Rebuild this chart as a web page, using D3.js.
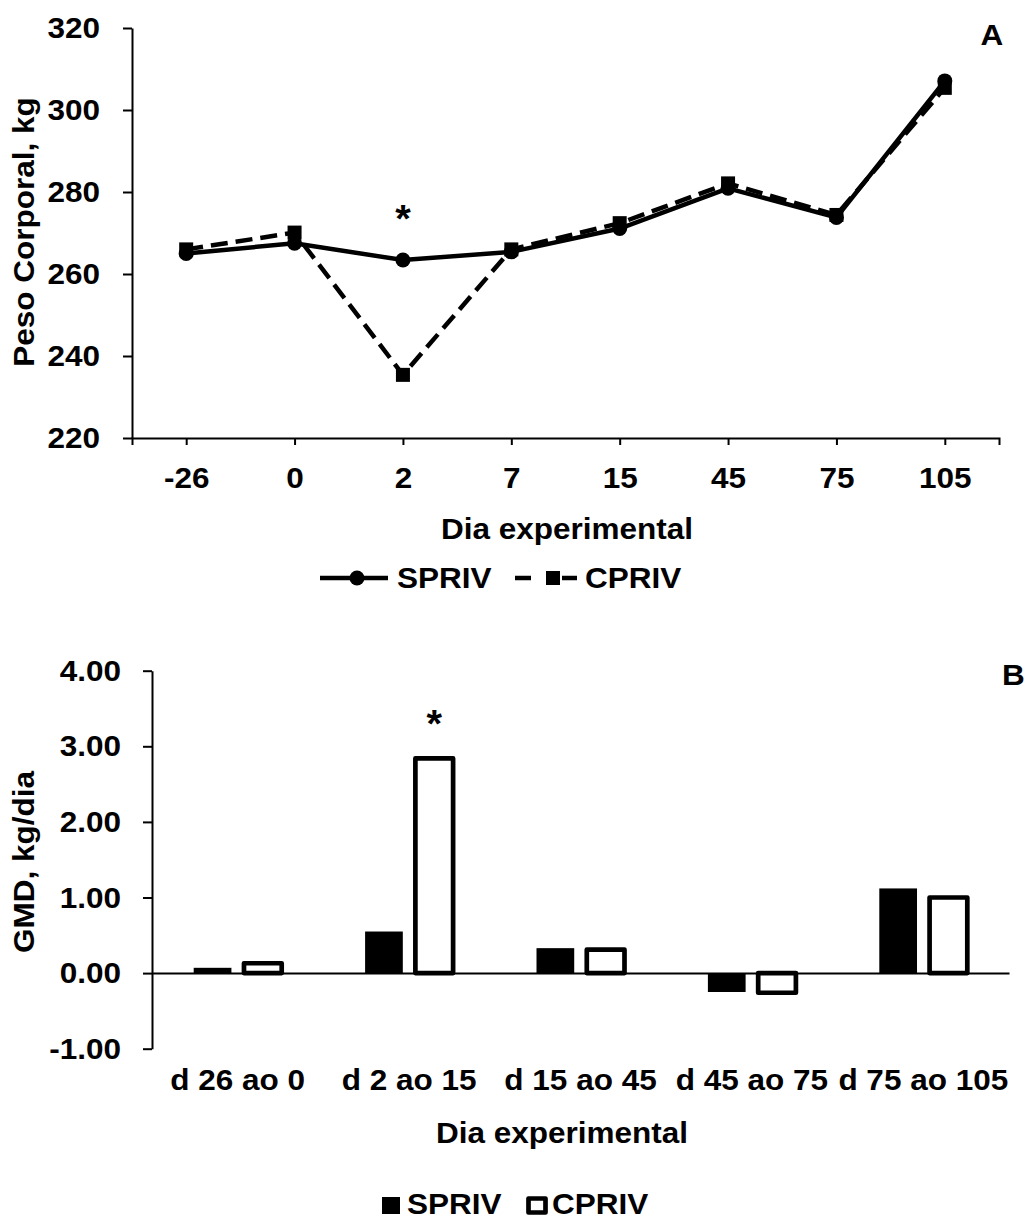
<!DOCTYPE html>
<html>
<head>
<meta charset="utf-8">
<script src="https://cdn.jsdelivr.net/npm/d3@7"></script>
<style>
  body { margin: 0; background: #fff; }
  svg text { font-family: "Liberation Sans", Arial, sans-serif; font-weight: bold; font-size: 30px; fill: #000; }
  svg text.star { font-size: 38px; }
</style>
</head>
<body>
<div id="chart"></div>
<script>
// panel A - peso corporal
var dias = ["-26", "0", "2", "7", "15", "45", "75", "105"];
var pesoSPRIV = [265.0, 267.5, 263.4, 265.4, 271.1, 280.9, 273.8, 307.1];
var pesoCPRIV = [266.0, 270.1, 235.4, 266.0, 272.4, 282.1, 274.4, 305.4];
var pesoTicks = [220, 240, 260, 280, 300, 320];

// panel B - GMD
var periodos = ["d 26 ao 0", "d 2 ao 15", "d 15 ao 45", "d 45 ao 75", "d 75 ao 105"];
var gmdSPRIV = [0.07, 0.55, 0.33, -0.25, 1.12];
var gmdCPRIV = [0.13, 2.84, 0.31, -0.26, 1.00];
var gmdTicks = [-1, 0, 1, 2, 3, 4];
var series = ["SPRIV", "CPRIV"];

var WIDTH = 1032, HEIGHT = 1221;

var svg = d3.select('#chart')
            .append('svg')
            .attr('width', WIDTH)
            .attr('height', HEIGHT);

// ---------- panel A ----------
var xA = d3.scalePoint().domain(dias).range([132, 999]).padding(0.5);
var yA = d3.scaleLinear().domain([220, 320]).range([438, 28]);

var gA = svg.append('g');

gA.append('g')
  .attr('transform', 'translate(132,0)')
  .call(d3.axisLeft(yA).tickValues(pesoTicks).tickSize(9).tickSizeOuter(0).tickPadding(23));

gA.append('g')
  .attr('transform', 'translate(0,438)')
  .call(d3.axisBottom(xA).tickSize(7).tickSizeOuter(7).tickPadding(21.7));

var line = d3.line()
             .x(function(d, i) { return xA(dias[i]); })
             .y(function(d) { return yA(d); });

// dashed series first, solid on top
gA.append('path')
  .datum(pesoCPRIV)
  .attr('d', line)
  .attr('fill', 'none')
  .attr('stroke', '#000')
  .attr('stroke-width', 4.5)
  .attr('stroke-dasharray', '17,8');

gA.selectAll('rect.cpriv')
  .data(pesoCPRIV)
  .enter()
  .append('rect')
  .attr('class', 'cpriv')
  .attr('x', function(d, i) { return xA(dias[i]) - 7; })
  .attr('y', function(d) { return yA(d) - 7; })
  .attr('width', 14)
  .attr('height', 14)
  .attr('fill', '#000');

gA.append('path')
  .datum(pesoSPRIV)
  .attr('d', line)
  .attr('fill', 'none')
  .attr('stroke', '#000')
  .attr('stroke-width', 4.5);

gA.selectAll('circle.spriv')
  .data(pesoSPRIV)
  .enter()
  .append('circle')
  .attr('class', 'spriv')
  .attr('cx', function(d, i) { return xA(dias[i]); })
  .attr('cy', function(d) { return yA(d); })
  .attr('r', 7.5)
  .attr('fill', '#000');

gA.append('text')
  .attr('class', 'star')
  .attr('x', xA("2"))
  .attr('y', yA(pesoSPRIV[2]) - 28)
  .attr('text-anchor', 'middle')
  .text('*');

gA.append('text')
  .attr('x', 992)
  .attr('y', 45)
  .attr('text-anchor', 'middle')
  .text('A');

gA.append('text')
  .attr('transform', 'translate(34,232) rotate(-90)')
  .attr('text-anchor', 'middle')
  .text('Peso Corporal, kg');

gA.append('text')
  .attr('x', 567)
  .attr('y', 539)
  .attr('text-anchor', 'middle')
  .text('Dia experimental');

// legend A
var legA = gA.append('g');
legA.append('line').attr('x1', 320).attr('x2', 388).attr('y1', 578).attr('y2', 578)
    .attr('stroke', '#000').attr('stroke-width', 4.5);
legA.append('circle').attr('cx', 357).attr('cy', 578).attr('r', 7.5).attr('fill', '#000');
legA.append('text').attr('x', 397).attr('y', 588).text(series[0]);
legA.append('line').attr('x1', 515).attr('x2', 531).attr('y1', 578).attr('y2', 578)
    .attr('stroke', '#000').attr('stroke-width', 4.5);
legA.append('line').attr('x1', 562).attr('x2', 577).attr('y1', 578).attr('y2', 578)
    .attr('stroke', '#000').attr('stroke-width', 4.5);
legA.append('rect').attr('x', 546).attr('y', 571).attr('width', 14).attr('height', 14).attr('fill', '#000');
legA.append('text').attr('x', 585).attr('y', 588).text(series[1]);

// ---------- panel B ----------
var xB = d3.scaleBand().domain(periodos).range([152, 1009]);
var xB1 = d3.scaleBand().domain(series).range([0, 88]).paddingInner(0.25);
var yB = d3.scaleLinear().domain([-1, 4]).range([1048.7, 670.7]);

var gB = svg.append('g');

gB.append('g')
  .attr('transform', 'translate(152,0)')
  .call(d3.axisLeft(yB).tickValues(gmdTicks).tickSize(9).tickSizeOuter(0).tickPadding(22)
          .tickFormat(function(d) { return d.toFixed(2); }));

var barData = [];
periodos.forEach(function(p, i) {
  barData.push({ p: p, s: "SPRIV", v: gmdSPRIV[i] });
  barData.push({ p: p, s: "CPRIV", v: gmdCPRIV[i] });
});

gB.selectAll('rect.bar')
  .data(barData)
  .enter()
  .append('rect')
  .attr('class', 'bar')
  .attr('x', function(d) { return xB(d.p) + xB.bandwidth() / 2 - 44 + xB1(d.s); })
  .attr('y', function(d) { return yB(Math.max(0, d.v)); })
  .attr('width', xB1.bandwidth())
  .attr('height', function(d) { return Math.abs(yB(d.v) - yB(0)); })
  .attr('fill', function(d) { return d.s === "SPRIV" ? '#000' : '#fff'; })
  .attr('stroke', function(d) { return d.s === "SPRIV" ? 'none' : '#000'; })
  .attr('stroke-width', 4.7)
  .attr('stroke-linejoin', 'round');

gB.append('g')
  .attr('transform', 'translate(0,' + yB(0) + ')')
  .call(d3.axisBottom(xB).tickSize(0).tickSizeOuter(0).tickPadding(95.7));

gB.append('text')
  .attr('class', 'star')
  .attr('x', xB(periodos[1]) + xB.bandwidth() / 2 - 44 + xB1("CPRIV") + xB1.bandwidth() / 2)
  .attr('y', yB(gmdCPRIV[1]) - 21)
  .attr('text-anchor', 'middle')
  .text('*');

gB.append('text')
  .attr('x', 1002)
  .attr('y', 685)
  .text('B');

gB.append('text')
  .attr('transform', 'translate(34,862) rotate(-90)')
  .attr('text-anchor', 'middle')
  .text('GMD, kg/dia');

gB.append('text')
  .attr('x', 562)
  .attr('y', 1143)
  .attr('text-anchor', 'middle')
  .text('Dia experimental');

// legend B
var legB = gB.append('g');
legB.append('rect').attr('x', 382).attr('y', 1197).attr('width', 18).attr('height', 17).attr('fill', '#000');
legB.append('text').attr('x', 407).attr('y', 1214).text(series[0]);
legB.append('rect').attr('x', 528.5).attr('y', 1198.5).attr('width', 17).attr('height', 14)
    .attr('fill', '#fff').attr('stroke', '#000').attr('stroke-width', 4.7).attr('stroke-linejoin', 'round');
legB.append('text').attr('x', 552).attr('y', 1214).text(series[1]);

// axis line weights
svg.selectAll('.domain, .tick line').attr('stroke-width', 2);

// the reference font runs a little wider than Arial, stretch each label along its line
svg.selectAll('text').each(function() {
  var L = this.getComputedTextLength();
  if (L > 0) {
    d3.select(this).attr('textLength', L * 1.05).attr('lengthAdjust', 'spacingAndGlyphs');
  }
});
</script>
</body>
</html>
